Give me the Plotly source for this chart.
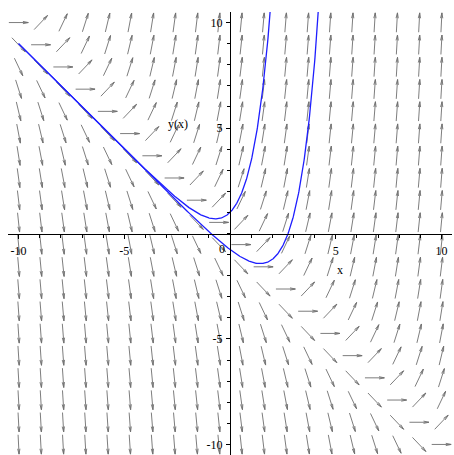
import numpy as np
import plotly.graph_objects as go

# ODE: dy/dx = x + y  (direction field)
x_min, x_max = -10, 10
y_min, y_max = -10, 10
n_arrows = 20
# initial conditions at x = 0 for the two solution curves
ic_x0 = [0.0, 0.0]
ic_y0 = [1.0, -0.76]
x_tick_vals = [-10, -5, 5, 10]
x_tick_text = ["-10", "-5", "5", "10"]
y_tick_vals = [-10, -5, 5, 10]
y_tick_text = ["-10", "-5", "5", "10"]


def f(x, y):
    return x + y


def rk4(x0, y0, x_end, h):
    xs, ys = [x0], [y0]
    x, y = x0, y0
    while (x_end - x) * np.sign(h) > 1e-9:
        k1 = f(x, y)
        k2 = f(x + h / 2, y + h * k1 / 2)
        k3 = f(x + h / 2, y + h * k2 / 2)
        k4 = f(x + h, y + h * k3)
        y = y + h * (k1 + 2 * k2 + 2 * k3 + k4) / 6
        x = x + h
        xs.append(x)
        ys.append(y)
        if abs(y) > 12:
            break
    return xs, ys


fig = go.Figure()

# direction field arrows
gx = np.linspace(x_min, x_max, n_arrows)
gy = np.linspace(y_min, y_max, n_arrows)
L = 0.92
hl = 0.26
th = np.radians(12)
ax, ay = [], []
for xi in gx:
    for yj in gy:
        s = f(xi, yj)
        n = np.hypot(1, s)
        dx, dy = 1 / n, s / n
        x0, y0 = xi - L / 2 * dx, yj - L / 2 * dy
        x1, y1 = xi + L / 2 * dx, yj + L / 2 * dy
        ax += [x0, x1, None]
        ay += [y0, y1, None]
        for sg in (1, -1):
            c, sn = np.cos(sg * th), np.sin(sg * th)
            bx = -(dx * c - dy * sn)
            by = -(dx * sn + dy * c)
            ax += [x1, x1 + hl * bx, None]
            ay += [y1, y1 + hl * by, None]

fig.add_trace(go.Scatter(x=ax, y=ay, mode="lines",
                         line=dict(color="rgb(110,110,110)", width=0.9),
                         hoverinfo="skip", showlegend=False))

# solution curves
for x0, y0 in zip(ic_x0, ic_y0):
    bx, by = rk4(x0, y0, x_min, -0.02)
    fx, fy = rk4(x0, y0, x_max, 0.02)
    xs = bx[::-1] + fx[1:]
    ys = by[::-1] + fy[1:]
    fig.add_trace(go.Scatter(x=xs, y=ys, mode="lines",
                             line=dict(color="rgb(30,30,255)", width=1.3),
                             hoverinfo="skip", showlegend=False))

font = dict(family="Liberation Serif, Times New Roman, serif", size=12, color="black")

fig.update_layout(
    width=454, height=455,
    margin=dict(l=8, r=2, t=12, b=0),
    paper_bgcolor="white", plot_bgcolor="white",
    font=font,
    xaxis=dict(range=[-10.5, 10.5], anchor="free", position=0.5,
               showline=True, linecolor="black", linewidth=1,
               showgrid=False, zeroline=False,
               ticks="outside", ticklen=4, tickcolor="black",
               tickvals=x_tick_vals, ticktext=x_tick_text,
               ticklabelstandoff=2,
               minor=dict(dtick=1, ticks="outside", ticklen=3, tickcolor="black")),
    yaxis=dict(range=[-10.5, 10.5], anchor="free", position=0.5,
               showline=True, linecolor="black", linewidth=1,
               showgrid=False, zeroline=False,
               ticks="outside", ticklen=4, tickcolor="black",
               tickvals=y_tick_vals, ticktext=y_tick_text,
               ticklabelstandoff=1,
               minor=dict(dtick=1, ticks="outside", ticklen=3, tickcolor="black")),
    annotations=[
        dict(x=-0.4, y=-0.75, text="0", showarrow=False, font=font),
        dict(x=5.2, y=-1.75, text="x", showarrow=False, font=font),
        dict(x=-2.45, y=5.2, text="y(x)", showarrow=False, font=font),
    ],
)

fig.write_html("out.html", config={"displayModeBar": False},
               post_script="document.body.style.margin='0px';document.body.style.padding='0px';")
